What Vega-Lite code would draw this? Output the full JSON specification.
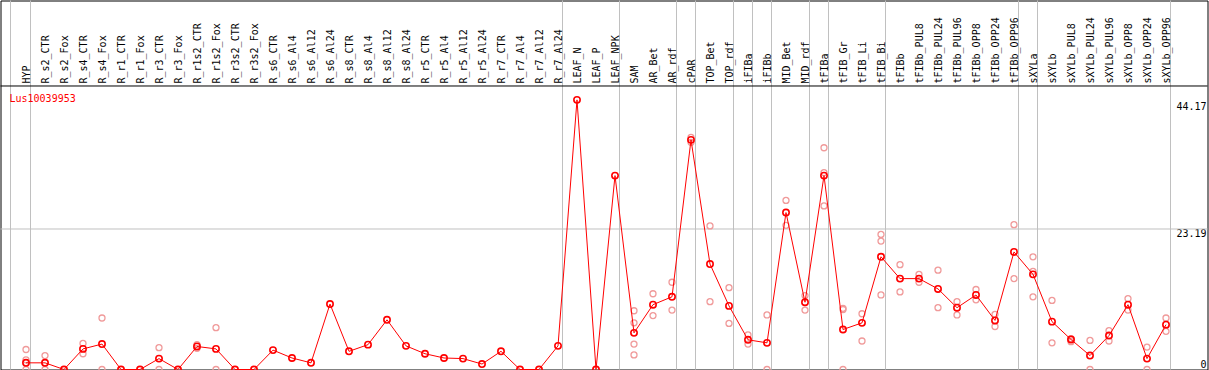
{
  "$schema": "https://vega.github.io/schema/vega-lite/v6.json",
  "width": 1207,
  "height": 369,
  "autosize": {"type": "none"},
  "padding": {"left": 0.5, "top": 0.5, "right": 1, "bottom": 0.5},
  "background": "#ffffff",
  "title": {"text": "Lus10039953", "anchor": "start", "frame": "group", "orient": "top", "offset": -109, "dx": 9, "baseline": "middle", "color": "#ff0000", "font": "DejaVu Sans Mono", "fontSize": 10, "fontWeight": "normal"},
  "config": {"view": {"stroke": "#000000", "strokeWidth": 1}},
  "datasets": {
    "means": [
      {"cat": "HYP", "v": 1.1}, {"cat": "R_s2_CTR", "v": 1.1}, {"cat": "R_s2_Fox", "v": 0}, {"cat": "R_s4_CTR", "v": 3.4}, {"cat": "R_s4_Fox", "v": 4.2},
      {"cat": "R_r1_CTR", "v": 0}, {"cat": "R_r1_Fox", "v": 0}, {"cat": "R_r3_CTR", "v": 1.8}, {"cat": "R_r3_Fox", "v": 0}, {"cat": "R_r1s2_CTR", "v": 3.8},
      {"cat": "R_r1s2_Fox", "v": 3.4}, {"cat": "R_r3s2_CTR", "v": 0}, {"cat": "R_r3s2_Fox", "v": 0}, {"cat": "R_s6_CTR", "v": 3.2}, {"cat": "R_s6_Al4", "v": 1.9},
      {"cat": "R_s6_Al12", "v": 1.1}, {"cat": "R_s6_Al24", "v": 10.8}, {"cat": "R_s8_CTR", "v": 3.0}, {"cat": "R_s8_Al4", "v": 4.1}, {"cat": "R_s8_Al12", "v": 8.2},
      {"cat": "R_s8_Al24", "v": 3.9}, {"cat": "R_r5_CTR", "v": 2.6}, {"cat": "R_r5_Al4", "v": 1.9}, {"cat": "R_r5_Al12", "v": 1.8}, {"cat": "R_r5_Al24", "v": 0.9},
      {"cat": "R_r7_CTR", "v": 3.0}, {"cat": "R_r7_Al4", "v": 0}, {"cat": "R_r7_Al12", "v": 0}, {"cat": "R_r7_Al24", "v": 3.9}, {"cat": "LEAF_N", "v": 44.5},
      {"cat": "LEAF_P", "v": 0}, {"cat": "LEAF_NPK", "v": 32.0}, {"cat": "SAM", "v": 6.05}, {"cat": "AR_Bet", "v": 10.7}, {"cat": "AR_rdf", "v": 12.0},
      {"cat": "cPAR", "v": 37.9}, {"cat": "TOP_Bet", "v": 17.4}, {"cat": "TOP_rdf", "v": 10.5}, {"cat": "iFIBa", "v": 4.9}, {"cat": "iFIBb", "v": 4.4},
      {"cat": "MID_Bet", "v": 25.9}, {"cat": "MID_rdf", "v": 11.1}, {"cat": "tFIBa", "v": 32.0}, {"cat": "tFIB_Gr", "v": 6.6}, {"cat": "tFIB_Li", "v": 7.7},
      {"cat": "tFIB_Bi", "v": 18.6}, {"cat": "tFIBb", "v": 15.0}, {"cat": "tFIBb_PUL8", "v": 15.0}, {"cat": "tFIBb_PUL24", "v": 13.3}, {"cat": "tFIBb_PUL96", "v": 10.2},
      {"cat": "tFIBb_OPP8", "v": 12.3}, {"cat": "tFIBb_OPP24", "v": 8.1}, {"cat": "tFIBb_OPP96", "v": 19.4}, {"cat": "sXYLa", "v": 15.7}, {"cat": "sXYLb", "v": 7.9},
      {"cat": "sXYLb_PUL8", "v": 4.95}, {"cat": "sXYLb_PUL24", "v": 2.3}, {"cat": "sXYLb_PUL96", "v": 5.6}, {"cat": "sXYLb_OPP8", "v": 10.7}, {"cat": "sXYLb_OPP24", "v": 1.8},
      {"cat": "sXYLb_OPP96", "v": 7.4}
    ],
    "reps": [
      {"cat": "HYP", "v": 3.3}, {"cat": "HYP", "v": 1.6}, {"cat": "HYP", "v": 0},
      {"cat": "R_s2_CTR", "v": 2.3}, {"cat": "R_s2_CTR", "v": 0},
      {"cat": "R_s4_CTR", "v": 4.3}, {"cat": "R_s4_CTR", "v": 2.6},
      {"cat": "R_s4_Fox", "v": 8.5}, {"cat": "R_s4_Fox", "v": 0},
      {"cat": "R_r3_CTR", "v": 3.6}, {"cat": "R_r3_CTR", "v": 0},
      {"cat": "R_r1s2_CTR", "v": 4.1}, {"cat": "R_r1s2_CTR", "v": 3.5},
      {"cat": "R_r1s2_Fox", "v": 6.9}, {"cat": "R_r1s2_Fox", "v": 0},
      {"cat": "SAM", "v": 9.7}, {"cat": "SAM", "v": 7.7}, {"cat": "SAM", "v": 4.2}, {"cat": "SAM", "v": 2.4},
      {"cat": "AR_Bet", "v": 12.5}, {"cat": "AR_Bet", "v": 8.9},
      {"cat": "AR_rdf", "v": 14.4}, {"cat": "AR_rdf", "v": 9.8},
      {"cat": "cPAR", "v": 38.3}, {"cat": "cPAR", "v": 37.5},
      {"cat": "TOP_Bet", "v": 23.7}, {"cat": "TOP_Bet", "v": 11.2},
      {"cat": "TOP_rdf", "v": 13.5}, {"cat": "TOP_rdf", "v": 7.6},
      {"cat": "iFIBa", "v": 5.7}, {"cat": "iFIBa", "v": 4.2},
      {"cat": "iFIBb", "v": 9.0}, {"cat": "iFIBb", "v": 0},
      {"cat": "MID_Bet", "v": 27.9}, {"cat": "MID_Bet", "v": 23.8},
      {"cat": "MID_rdf", "v": 12.2}, {"cat": "MID_rdf", "v": 9.8},
      {"cat": "tFIBa", "v": 36.6}, {"cat": "tFIBa", "v": 32.5}, {"cat": "tFIBa", "v": 27.0},
      {"cat": "tFIB_Gr", "v": 10.1}, {"cat": "tFIB_Gr", "v": 9.9}, {"cat": "tFIB_Gr", "v": 0},
      {"cat": "tFIB_Li", "v": 9.2}, {"cat": "tFIB_Li", "v": 4.7},
      {"cat": "tFIB_Bi", "v": 22.3}, {"cat": "tFIB_Bi", "v": 21.2}, {"cat": "tFIB_Bi", "v": 12.3},
      {"cat": "tFIBb", "v": 17.3}, {"cat": "tFIBb", "v": 12.8},
      {"cat": "tFIBb_PUL8", "v": 15.7}, {"cat": "tFIBb_PUL8", "v": 14.4},
      {"cat": "tFIBb_PUL24", "v": 16.4}, {"cat": "tFIBb_PUL24", "v": 10.2},
      {"cat": "tFIBb_PUL96", "v": 11.2}, {"cat": "tFIBb_PUL96", "v": 9.0},
      {"cat": "tFIBb_OPP8", "v": 13.2}, {"cat": "tFIBb_OPP8", "v": 11.5},
      {"cat": "tFIBb_OPP24", "v": 9.1}, {"cat": "tFIBb_OPP24", "v": 7.1},
      {"cat": "tFIBb_OPP96", "v": 23.9}, {"cat": "tFIBb_OPP96", "v": 15.0},
      {"cat": "sXYLa", "v": 18.6}, {"cat": "sXYLa", "v": 16.2}, {"cat": "sXYLa", "v": 12.0},
      {"cat": "sXYLb", "v": 11.4}, {"cat": "sXYLb", "v": 4.4},
      {"cat": "sXYLb_PUL8", "v": 5.1}, {"cat": "sXYLb_PUL8", "v": 4.6},
      {"cat": "sXYLb_PUL24", "v": 4.8}, {"cat": "sXYLb_PUL24", "v": 0},
      {"cat": "sXYLb_PUL96", "v": 6.4}, {"cat": "sXYLb_PUL96", "v": 4.7},
      {"cat": "sXYLb_OPP8", "v": 11.7}, {"cat": "sXYLb_OPP8", "v": 9.8},
      {"cat": "sXYLb_OPP24", "v": 3.7}, {"cat": "sXYLb_OPP24", "v": 0},
      {"cat": "sXYLb_OPP96", "v": 8.5}, {"cat": "sXYLb_OPP96", "v": 6.3}
    ],
    "seps": [
      {"cat": "HYP"}, {"cat": "R_r7_Al24"}, {"cat": "LEAF_NPK"}, {"cat": "AR_rdf"}, {"cat": "cPAR"}, {"cat": "TOP_rdf"}, {"cat": "iFIBa"},
      {"cat": "iFIBb"}, {"cat": "MID_rdf"}, {"cat": "tFIBa"}, {"cat": "tFIB_Bi"}, {"cat": "tFIBb_OPP96"}, {"cat": "sXYLa"}, {"cat": "sXYLb_OPP96"}
    ],
    "first": [{"cat": "HYP"}],
    "ref": [{"ref": 23.19}],
    "header": [{}]
  },
  "layer": [
    {
      "data": {"name": "seps"},
      "mark": {"type": "rule", "color": "#c0c0c0", "strokeWidth": 1, "xOffset": 4.5},
      "encoding": {
        "x": {"field": "cat", "type": "nominal",
          "scale": {"type": "point", "padding": 0, "range": [25.5, 1165.5], "domain": ["HYP","R_s2_CTR","R_s2_Fox","R_s4_CTR","R_s4_Fox","R_r1_CTR","R_r1_Fox","R_r3_CTR","R_r3_Fox","R_r1s2_CTR","R_r1s2_Fox","R_r3s2_CTR","R_r3s2_Fox","R_s6_CTR","R_s6_Al4","R_s6_Al12","R_s6_Al24","R_s8_CTR","R_s8_Al4","R_s8_Al12","R_s8_Al24","R_r5_CTR","R_r5_Al4","R_r5_Al12","R_r5_Al24","R_r7_CTR","R_r7_Al4","R_r7_Al12","R_r7_Al24","LEAF_N","LEAF_P","LEAF_NPK","SAM","AR_Bet","AR_rdf","cPAR","TOP_Bet","TOP_rdf","iFIBa","iFIBb","MID_Bet","MID_rdf","tFIBa","tFIB_Gr","tFIB_Li","tFIB_Bi","tFIBb","tFIBb_PUL8","tFIBb_PUL24","tFIBb_PUL96","tFIBb_OPP8","tFIBb_OPP24","tFIBb_OPP96","sXYLa","sXYLb","sXYLb_PUL8","sXYLb_PUL24","sXYLb_PUL96","sXYLb_OPP8","sXYLb_OPP24","sXYLb_OPP96"]},
          "axis": {"orient": "top", "offset": -85.5, "title": null, "ticks": false, "grid": false, "domain": false, "labelAngle": -90, "labelPadding": 3, "labelFont": "DejaVu Sans Mono", "labelFontSize": 10, "labelColor": "#000000", "labelOverlap": false, "labelBound": false, "zindex": 1}
        }
      }
    },
    {
      "data": {"name": "first"},
      "mark": {"type": "rule", "color": "#c0c0c0", "strokeWidth": 1, "xOffset": -15.5},
      "encoding": {
        "x": {"field": "cat", "type": "nominal"}
      }
    },
    {
      "data": {"name": "ref"},
      "mark": {"type": "rule", "color": "#c0c0c0", "strokeWidth": 1},
      "encoding": {
        "y": {"field": "ref", "type": "quantitative",
          "scale": {"domain": [0, 60.9], "nice": false, "zero": true},
          "axis": {"orient": "right", "title": null, "values": [0, 23.19, 44.17], "format": ".2~f", "domain": false, "ticks": false, "grid": false, "labelAlign": "right", "labelPadding": -1.5, "labelFont": "DejaVu Sans Mono", "labelFontSize": 10, "labelColor": "#000000", "labelBaseline": {"condition": {"test": "datum.value === 0", "value": "bottom"}, "value": "top"}, "labelOverlap": false, "labelBound": false, "labelFlush": false}
        }
      }
    },
    {
      "data": {"name": "header"},
      "mark": {"type": "rule", "color": "#000000", "strokeWidth": 1},
      "encoding": {
        "y": {"datum": 46.79, "type": "quantitative"}
      }
    },
    {
      "data": {"name": "reps"},
      "mark": {"type": "point", "shape": "circle", "filled": false, "color": "#f09a9a", "strokeWidth": 1.3, "size": 36, "opacity": 1},
      "encoding": {
        "x": {"field": "cat", "type": "nominal"},
        "y": {"field": "v", "type": "quantitative"}
      }
    },
    {
      "data": {"name": "means"},
      "mark": {"type": "line", "color": "#ff0000", "strokeWidth": 1},
      "encoding": {
        "x": {"field": "cat", "type": "nominal", "sort": null},
        "y": {"field": "v", "type": "quantitative"}
      }
    },
    {
      "data": {"name": "means"},
      "mark": {"type": "point", "shape": "circle", "filled": false, "color": "#ff0000", "strokeWidth": 1.6, "size": 40, "opacity": 1},
      "encoding": {
        "x": {"field": "cat", "type": "nominal"},
        "y": {"field": "v", "type": "quantitative"}
      }
    }
  ]
}
